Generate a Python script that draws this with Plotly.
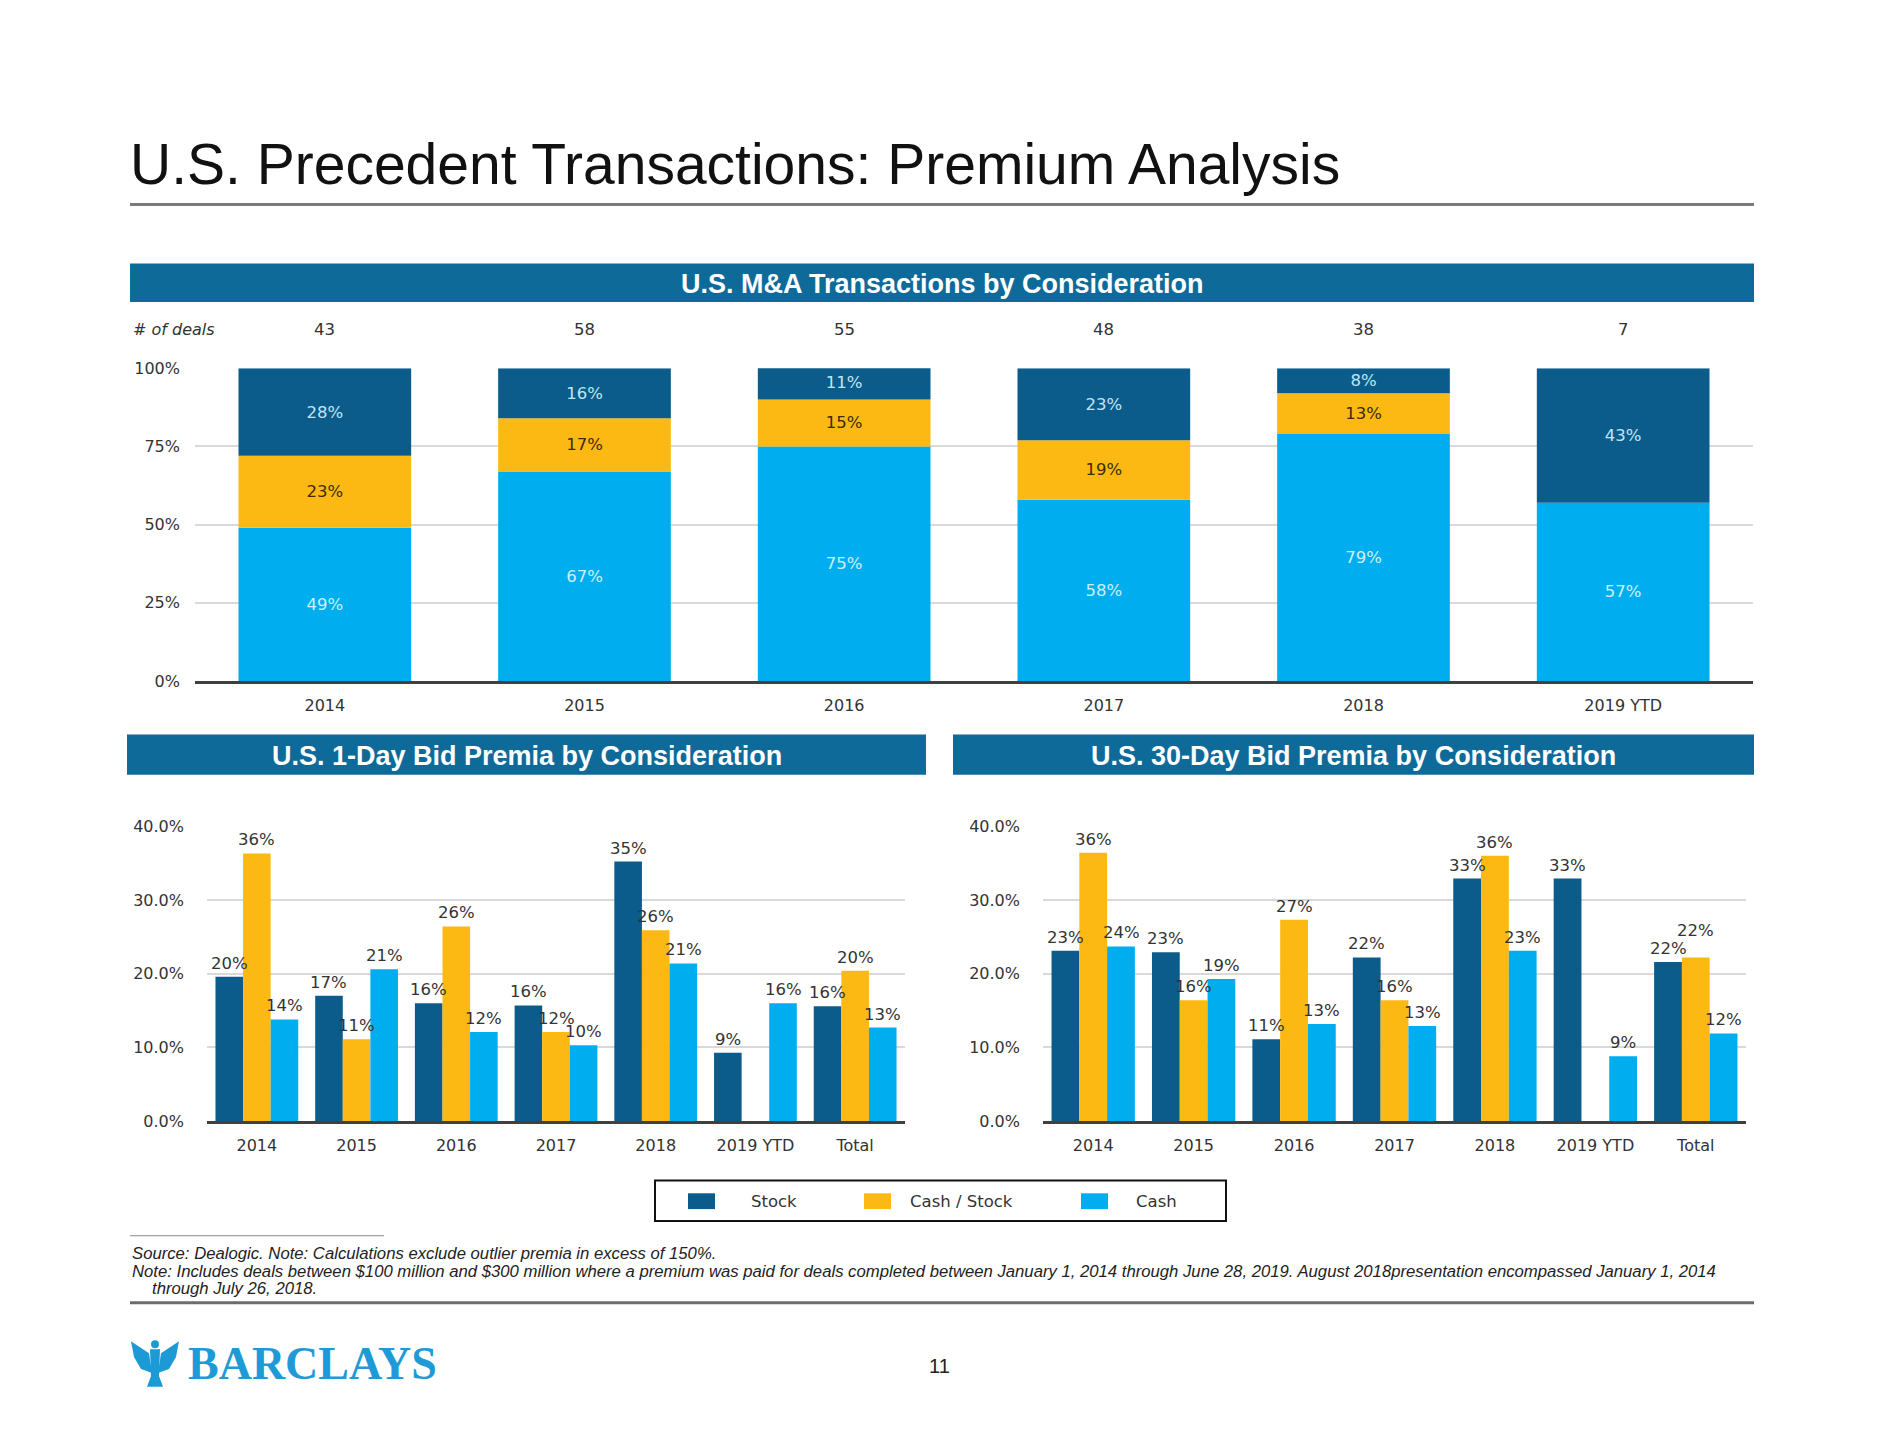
import plotly.graph_objects as go

# ---------------- data ----------------
years_top = ["2014", "2015", "2016", "2017", "2018", "2019 YTD"]
deal_counts = [43, 58, 55, 48, 38, 7]
mix_cash = [49, 67, 75, 58, 79, 57]
mix_cash_stock = [23, 17, 15, 19, 13, 0]
mix_stock = [28, 16, 11, 23, 8, 43]

cats = ["2014", "2015", "2016", "2017", "2018", "2019 YTD", "Total"]
d1_stock = [19.6, 17.0, 16.0, 15.7, 35.2, 9.3, 15.6]
d1_cash_stock = [36.3, 11.1, 26.4, 12.1, 25.9, None, 20.4]
d1_cash = [13.8, 20.6, 12.1, 10.3, 21.4, 16.0, 12.7]
d30_stock = [23.1, 22.9, 11.1, 22.2, 32.9, 32.9, 21.6]
d30_cash_stock = [36.4, 16.4, 27.3, 16.4, 36.0, None, 22.2]
d30_cash = [23.7, 19.3, 13.2, 12.9, 23.1, 8.8, 11.9]

series_names = ["Stock", "Cash / Stock", "Cash"]
top_ticks = [0, 25, 50, 75, 100]
low_ticks = [0, 10, 20, 30, 40]

# ---------------- style ----------------
W, H = 1880, 1452
STOCK = "#0B5C8A"
CS = "#FDB913"
CASH = "#00AEEF"
BANNER = "#0E6A99"
FONT = "Arial, Liberation Sans, sans-serif"
CFONT = "DejaVu Sans, Verdana, sans-serif"
TXT = "#333333"


def X(px):
    return px / W


def Y(py):
    return 1 - py / H


fig = go.Figure()
shapes = []
annotations = []

# ---------------- top stacked chart ----------------
base_cs = [c for c in mix_cash]
base_stock = [c + s for c, s in zip(mix_cash, mix_cash_stock)]
top_specs = [
    (mix_cash, [0] * len(mix_cash), CASH, "#CDEFFC"),
    (mix_cash_stock, base_cs, CS, "#3B2C05"),
    (mix_stock, base_stock, STOCK, "#BFE6F7"),
]
for vals, base, col, tcol in top_specs:
    fig.add_trace(go.Bar(
        x=years_top, y=vals, base=base, width=0.665, offset=-0.3325,
        marker=dict(color=col, line=dict(width=0)),
        text=[f"{v}%" if v else "" for v in vals],
        textposition="inside", insidetextanchor="middle",
        textfont=dict(color=tcol, size=16.5, family=CFONT),
        constraintext="none",
        xaxis="x", yaxis="y", showlegend=False, hoverinfo="skip",
    ))

# ---------------- lower grouped charts ----------------
bw = 0.2767
offsets = [-0.415, -0.415 + bw, -0.415 + 2 * bw]
colors = [STOCK, CS, CASH]
LOW_TOP, LOW_BOT = 828, 1127
px_per_unit = (LOW_BOT - LOW_TOP) / 40.0
LABEL_H = 18  # label height in pixels

for ax, data in [
    ("2", [d1_stock, d1_cash_stock, d1_cash]),
    ("3", [d30_stock, d30_cash_stock, d30_cash]),
]:
    for vals, off, col, name in zip(data, offsets, colors, series_names):
        fig.add_trace(go.Bar(
            x=cats, y=vals, width=bw, offset=off, name=name,
            marker=dict(color=col, line=dict(width=0)),
            xaxis="x" + ax, yaxis="y" + ax, showlegend=False,
            hoverinfo="skip",
        ))
    # value labels above bars; raise a label when it would collide with its left neighbour
    for i in range(len(cats)):
        prev_v, prev_shift = None, 0
        for j, (vals, off) in enumerate(zip(data, offsets)):
            v = vals[i]
            if v is None:
                prev_v, prev_shift = None, 0
                continue
            shift = 2
            if prev_v is not None:
                gap = (v - prev_v) * px_per_unit + (shift - prev_shift)
                if abs(gap) < LABEL_H and v >= prev_v:
                    shift = prev_shift + LABEL_H - (v - prev_v) * px_per_unit
            annotations.append(dict(
                text=f"{v:.0f}%", x=i + off + bw / 2, y=v, xref="x" + ax, yref="y" + ax,
                xanchor="center", yanchor="bottom", yshift=shift, showarrow=False,
                font=dict(size=16.5, color=TXT, family=CFONT)))
            prev_v, prev_shift = v, shift

axis_common_x = dict(type="category", showline=True, linecolor="#404040",
                     linewidth=3, ticks="", showgrid=False, zeroline=False,
                     tickfont=dict(size=16, color=TXT, family=CFONT),
                     ticklabelstandoff=8, fixedrange=True)
grid = dict(showgrid=True, gridcolor="#D9D9D9", gridwidth=1.5, zeroline=False,
            showline=False, ticks="", fixedrange=True,
            tickfont=dict(size=16, color=TXT, family=CFONT))

low_y = dict(range=[0, 40], tickvals=low_ticks,
             ticktext=[f"{v:.1f}%" for v in low_ticks], ticklabelstandoff=22, **grid)

fig.update_layout(
    width=W, height=H, margin=dict(l=0, r=0, t=0, b=0),
    paper_bgcolor="white", plot_bgcolor="white",
    barmode="overlay", showlegend=False,
    font=dict(family=FONT, color=TXT),
    xaxis=dict(domain=[X(195), X(1753)], anchor="y", range=[-0.5, 5.5], **axis_common_x),
    yaxis=dict(domain=[Y(681), Y(364)], anchor="x", range=[0, 100],
               tickvals=top_ticks, ticktext=[f"{v}%" for v in top_ticks],
               ticklabelstandoff=14, **grid),
    xaxis2=dict(domain=[X(207), X(905)], anchor="y2", range=[-0.5, 6.5], **axis_common_x),
    yaxis2=dict(domain=[Y(LOW_BOT), Y(LOW_TOP)], anchor="x2", **low_y),
    xaxis3=dict(domain=[X(1043), X(1746)], anchor="y3", range=[-0.5, 6.5], **axis_common_x),
    yaxis3=dict(domain=[Y(LOW_BOT), Y(LOW_TOP)], anchor="x3", **low_y),
)

# title and rules
annotations.append(dict(text="U.S. Precedent Transactions: Premium Analysis", x=X(128), y=Y(157),
                        xref="paper", yref="paper", xanchor="left", yanchor="middle",
                        showarrow=False, font=dict(size=57, color="#111111", family=FONT)))
shapes.append(dict(type="line", xref="paper", yref="paper", x0=X(130), x1=X(1754), y0=Y(198), y1=Y(198),
                   line=dict(color="#7A7A7A", width=3)))

# banners
for (x0, x1, y0, y1, label) in [
    (130, 1754, 258, 297, "U.S. M&A Transactions by Consideration"),
    (127, 926, 735, 776, "U.S. 1-Day Bid Premia by Consideration"),
    (953, 1754, 735, 776, "U.S. 30-Day Bid Premia by Consideration"),
]:
    shapes.append(dict(type="rect", xref="paper", yref="paper", x0=X(x0), x1=X(x1),
                       y0=Y(y1), y1=Y(y0), fillcolor=BANNER, line=dict(width=0), layer="below"))
    annotations.append(dict(text=f"<b>{label}</b>", x=X((x0 + x1) / 2), y=Y((y0 + y1) / 2 + 1),
                            xref="paper", yref="paper", xanchor="center", yanchor="middle",
                            showarrow=False, font=dict(size=27, color="white", family=FONT)))

# deal counts
annotations.append(dict(text="<i># of deals</i>", x=X(131), y=Y(325), xref="paper", yref="paper",
                        xanchor="left", yanchor="middle", showarrow=False,
                        font=dict(size=16, color=TXT, family=CFONT)))
for i, n in enumerate(deal_counts):
    annotations.append(dict(text=str(n), x=i, y=Y(325), xref="x", yref="paper",
                            xanchor="center", yanchor="middle", showarrow=False,
                            font=dict(size=16.5, color=TXT, family=CFONT)))

# legend (box with swatches)
shapes.append(dict(type="rect", xref="paper", yref="paper", x0=X(655), x1=X(1226),
                   y0=Y(1228), y1=Y(1187), line=dict(color="#111111", width=2), fillcolor="white"))
for name, col, sx, tx in zip(series_names, colors, [688, 864, 1081], [749, 908, 1134]):
    shapes.append(dict(type="rect", xref="paper", yref="paper", x0=X(sx), x1=X(sx + 27),
                       y0=Y(1216), y1=Y(1200), fillcolor=col, line=dict(width=0)))
    annotations.append(dict(text=name, x=X(tx), y=Y(1208), xref="paper", yref="paper",
                            xanchor="left", yanchor="middle", showarrow=False,
                            font=dict(size=16.5, color=TXT, family=CFONT)))

# footnotes
shapes.append(dict(type="line", xref="paper", yref="paper", x0=X(130), x1=X(384), y0=Y(1243), y1=Y(1243),
                   line=dict(color="#8A8A8A", width=1)))
notes = [
    (130, 1261, "Source: Dealogic. Note: Calculations exclude outlier premia in excess of 150%."),
    (130, 1279, "Note: Includes deals between $100 million and $300 million where a premium was paid for deals "
                "completed between January 1, 2014 through June 28, 2019. August 2018presentation encompassed January 1, 2014"),
    (150, 1296, "through July 26, 2018."),
]
for nx, ny, t in notes:
    annotations.append(dict(text=f"<i>{t}</i>", x=X(nx), y=Y(ny), xref="paper", yref="paper",
                            xanchor="left", yanchor="middle", showarrow=False,
                            font=dict(size=16.7, color="#222222", family=FONT)))
shapes.append(dict(type="line", xref="paper", yref="paper", x0=X(130), x1=X(1754), y0=Y(1311), y1=Y(1311),
                   line=dict(color="#6D6D6D", width=3)))

# logo
def P(pts):
    return "M " + " L ".join(f"{X(a):.5f},{Y(b):.5f}" for a, b in pts) + " Z"

eagle = "#1C9AD6"
shapes.append(dict(type="path", xref="paper", yref="paper", fillcolor=eagle, line=dict(width=0),
                   path=P([(131, 1350), (149, 1362), (152, 1382), (141, 1378), (134, 1366)])))
shapes.append(dict(type="path", xref="paper", yref="paper", fillcolor=eagle, line=dict(width=0),
                   path=P([(179, 1350), (161, 1362), (158, 1382), (169, 1378), (176, 1366)])))
shapes.append(dict(type="path", xref="paper", yref="paper", fillcolor=eagle, line=dict(width=0),
                   path=P([(150, 1358), (160, 1358), (159, 1385), (163, 1396), (147, 1396), (151, 1385)])))
shapes.append(dict(type="circle", xref="paper", yref="paper", fillcolor=eagle, line=dict(width=0),
                   x0=X(151), x1=X(159), y0=Y(1357), y1=Y(1349)))
annotations.append(dict(text="<b>BARCLAYS</b>", x=X(186), y=Y(1372), xref="paper", yref="paper",
                        xanchor="left", yanchor="middle", showarrow=False,
                        font=dict(size=46, color="#1E9BD7", family="Liberation Serif, DejaVu Serif, serif")))
annotations.append(dict(text="11", x=X(939), y=Y(1375), xref="paper", yref="paper",
                        xanchor="center", yanchor="middle", showarrow=False,
                        font=dict(size=20, color="#222222", family=FONT)))

fig.update_layout(shapes=shapes, annotations=annotations)

fig.write_html("out.html", config={"displayModeBar": False},
               post_script="document.body.style.margin='0';")
